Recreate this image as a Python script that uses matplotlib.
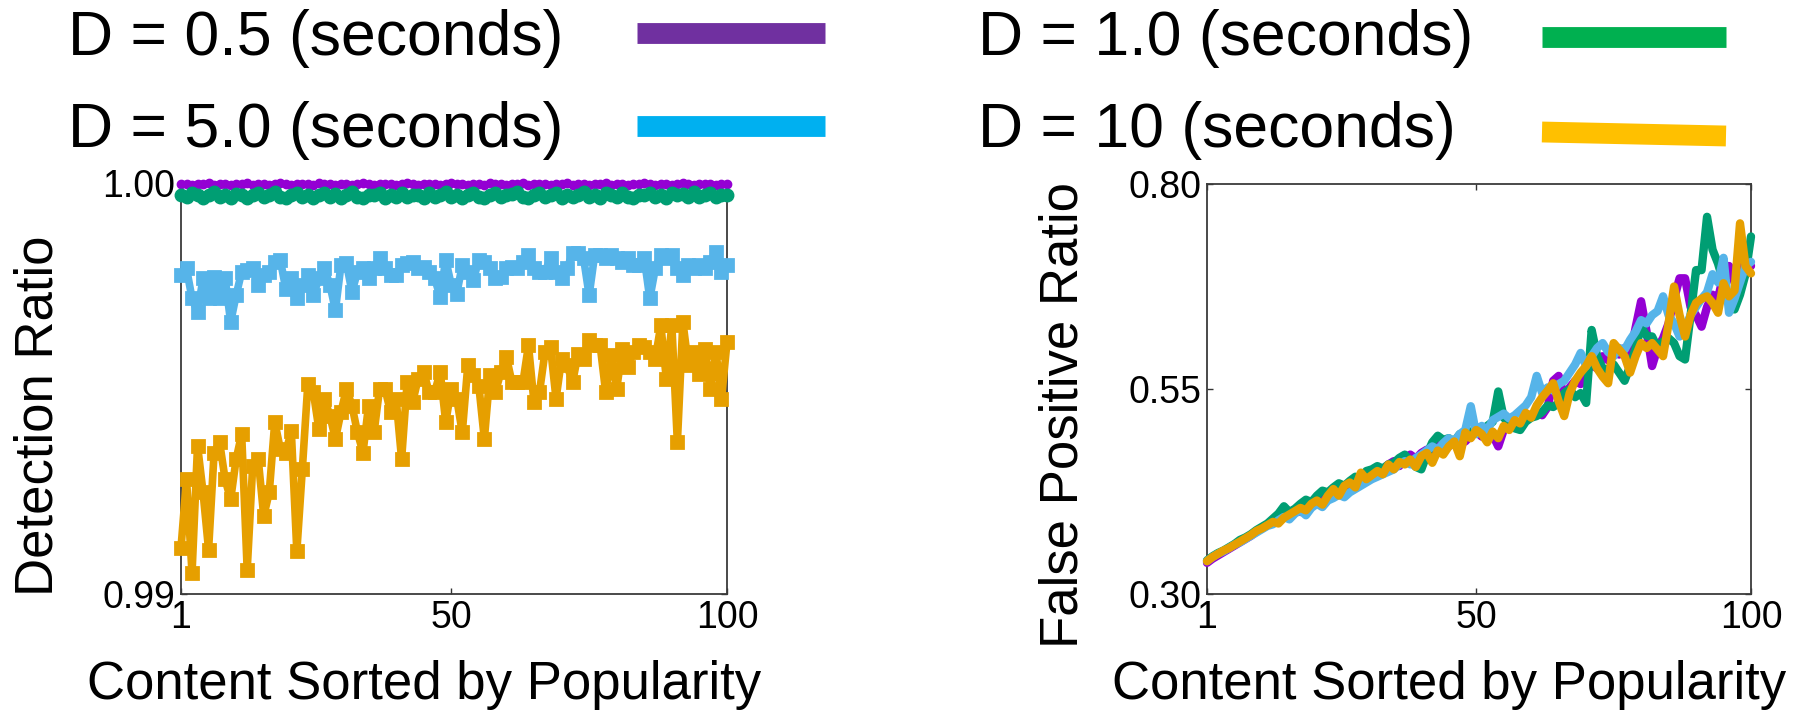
import matplotlib
matplotlib.use("Agg")
import matplotlib.pyplot as plt
from matplotlib.lines import Line2D

plt.rcParams['font.family'] = ['Liberation Sans', 'DejaVu Sans']

# ---------------- data ----------------
x = list(range(1, 101))

legend_labels = ["D = 0.5 (seconds)", "D = 1.0 (seconds)",
                 "D = 5.0 (seconds)", "D = 10 (seconds)"]

# Detection ratio (left panel)
det_d05 = [0.99997, 0.99998, 0.99996, 0.99998, 0.99997, 0.99999, 0.99996, 0.99998, 0.99997, 0.99996,
           0.99998, 0.99997, 0.99999, 0.99996, 0.99998, 0.99997, 0.99996, 0.99998, 0.99999, 0.99997,
           0.99996, 0.99998, 0.99997, 0.99998, 0.99996, 0.99999, 0.99997, 0.99998, 0.99996, 0.99997,
           0.99998, 0.99996, 0.99997, 0.99999, 0.99998, 0.99996, 0.99997, 0.99998, 0.99997, 0.99996,
           0.99998, 0.99999, 0.99997, 0.99996, 0.99998, 0.99997, 0.99998, 0.99996, 0.99997, 0.99999,
           0.99997, 0.99998, 0.99996, 0.99998, 0.99997, 0.99996, 0.99999, 0.99997, 0.99998, 0.99996,
           0.99997, 0.99998, 0.99999, 0.99996, 0.99997, 0.99998, 0.99997, 0.99996, 0.99998, 0.99997,
           0.99999, 0.99996, 0.99998, 0.99997, 0.99996, 0.99998, 0.99997, 0.99999, 0.99996, 0.99998,
           0.99997, 0.99996, 0.99998, 0.99997, 0.99999, 0.99998, 0.99996, 0.99997, 0.99998, 0.99996,
           0.99997, 0.99999, 0.99998, 0.99996, 0.99997, 0.99998, 0.99997, 0.99996, 0.99998, 0.99997]
det_d10 = [0.99972, 0.99966, 0.99976, 0.99970, 0.99963, 0.99972, 0.99977, 0.99967, 0.99971, 0.99964,
           0.99974, 0.99970, 0.99963, 0.99972, 0.99976, 0.99966, 0.99971, 0.99978, 0.99967, 0.99963,
           0.99970, 0.99975, 0.99966, 0.99972, 0.99963, 0.99971, 0.99976, 0.99967, 0.99973, 0.99964,
           0.99970, 0.99978, 0.99966, 0.99963, 0.99972, 0.99970, 0.99975, 0.99964, 0.99971, 0.99967,
           0.99976, 0.99966, 0.99972, 0.99970, 0.99963, 0.99975, 0.99967, 0.99971, 0.99978, 0.99966,
           0.99970, 0.99964, 0.99972, 0.99976, 0.99967, 0.99963, 0.99971, 0.99975, 0.99966, 0.99970,
           0.99973, 0.99978, 0.99967, 0.99964, 0.99971, 0.99975, 0.99966, 0.99970, 0.99976, 0.99963,
           0.99972, 0.99967, 0.99971, 0.99978, 0.99966, 0.99970, 0.99964, 0.99975, 0.99971, 0.99967,
           0.99976, 0.99966, 0.99963, 0.99972, 0.99970, 0.99975, 0.99967, 0.99971, 0.99964, 0.99976,
           0.99970, 0.99973, 0.99966, 0.99978, 0.99967, 0.99971, 0.99975, 0.99966, 0.99970, 0.99972]
det_d50 = [0.99776, 0.99792, 0.99719, 0.99686, 0.99768, 0.99719, 0.99772, 0.99719, 0.99768, 0.99662,
           0.99727, 0.99784, 0.99788, 0.99792, 0.99752, 0.99776, 0.99784, 0.99809, 0.99813, 0.99743,
           0.99768, 0.99719, 0.99752, 0.99776, 0.99727, 0.99768, 0.99792, 0.99752, 0.99691, 0.99800,
           0.99805, 0.99735, 0.99784, 0.99792, 0.99768, 0.99792, 0.99817, 0.99792, 0.99776, 0.99776,
           0.99800, 0.99805, 0.99809, 0.99792, 0.99796, 0.99784, 0.99768, 0.99723, 0.99813, 0.99752,
           0.99731, 0.99800, 0.99784, 0.99764, 0.99813, 0.99809, 0.99792, 0.99768, 0.99772, 0.99792,
           0.99796, 0.99792, 0.99809, 0.99825, 0.99792, 0.99784, 0.99784, 0.99817, 0.99784, 0.99768,
           0.99792, 0.99829, 0.99829, 0.99817, 0.99727, 0.99825, 0.99825, 0.99817, 0.99825, 0.99817,
           0.99809, 0.99817, 0.99800, 0.99800, 0.99817, 0.99719, 0.99792, 0.99825, 0.99817, 0.99825,
           0.99792, 0.99776, 0.99800, 0.99792, 0.99800, 0.99792, 0.99809, 0.99833, 0.99784, 0.99800]
det_d100 = [0.99112, 0.99279, 0.99051, 0.99361, 0.99247, 0.99108, 0.99344, 0.99369, 0.99279, 0.99230,
            0.99328, 0.99389, 0.99059, 0.99312, 0.99328, 0.99190, 0.99247, 0.99418, 0.99353, 0.99344,
            0.99397, 0.99104, 0.99304, 0.99511, 0.99491, 0.99401, 0.99475, 0.99434, 0.99377, 0.99442,
            0.99499, 0.99458, 0.99393, 0.99344, 0.99458, 0.99393, 0.99499, 0.99499, 0.99442, 0.99475,
            0.99328, 0.99515, 0.99467, 0.99524, 0.99540, 0.99491, 0.99491, 0.99540, 0.99418, 0.99499,
            0.99475, 0.99393, 0.99556, 0.99532, 0.99507, 0.99377, 0.99532, 0.99491, 0.99540, 0.99577,
            0.99515, 0.99515, 0.99515, 0.99605, 0.99467, 0.99491, 0.99589, 0.99601, 0.99475, 0.99572,
            0.99556, 0.99515, 0.99585, 0.99572, 0.99617, 0.99605, 0.99605, 0.99491, 0.99581, 0.99499,
            0.99597, 0.99552, 0.99589, 0.99605, 0.99601, 0.99589, 0.99572, 0.99654, 0.99524, 0.99654,
            0.99369, 0.99662, 0.99556, 0.99589, 0.99536, 0.99597, 0.99499, 0.99589, 0.99475, 0.99613]

# False positive ratio (right panel)
fp_d05 = [0.338, 0.343, 0.347, 0.351, 0.355, 0.359, 0.363, 0.367, 0.371, 0.376,
          0.380, 0.384, 0.388, 0.392, 0.395, 0.399, 0.403, 0.400, 0.408, 0.412,
          0.416, 0.420, 0.418, 0.425, 0.428, 0.432, 0.429, 0.438, 0.442, 0.440,
          0.446, 0.449, 0.452, 0.458, 0.462, 0.456, 0.466, 0.470, 0.465, 0.472,
          0.476, 0.472, 0.480, 0.484, 0.480, 0.487, 0.490, 0.486, 0.493, 0.498,
          0.492, 0.500, 0.494, 0.480, 0.500, 0.506, 0.510, 0.505, 0.515, 0.519,
          0.522, 0.518, 0.528, 0.560, 0.566, 0.540, 0.552, 0.560, 0.556, 0.570,
          0.580, 0.575, 0.590, 0.585, 0.598, 0.592, 0.600, 0.590, 0.625, 0.657,
          0.620, 0.578, 0.600, 0.612, 0.630, 0.660, 0.685, 0.685, 0.650, 0.640,
          0.626, 0.650, 0.665, 0.660, 0.690, 0.700, 0.680, 0.700, 0.705, 0.700]
fp_d10 = [0.341, 0.346, 0.350, 0.353, 0.357, 0.361, 0.366, 0.369, 0.373, 0.378,
          0.382, 0.386, 0.392, 0.398, 0.407, 0.400, 0.404, 0.410, 0.415, 0.412,
          0.420, 0.426, 0.424, 0.430, 0.435, 0.432, 0.438, 0.443, 0.440, 0.450,
          0.452, 0.456, 0.453, 0.458, 0.460, 0.466, 0.470, 0.462, 0.455, 0.452,
          0.470, 0.485, 0.493, 0.488, 0.490, 0.486, 0.495, 0.492, 0.498, 0.500,
          0.496, 0.505, 0.510, 0.547, 0.515, 0.508, 0.502, 0.500, 0.510, 0.515,
          0.517, 0.522, 0.530, 0.528, 0.533, 0.545, 0.550, 0.540, 0.545, 0.533,
          0.622, 0.590, 0.575, 0.574, 0.580, 0.570, 0.560, 0.578, 0.600, 0.626,
          0.615, 0.614, 0.600, 0.608, 0.612, 0.606, 0.590, 0.586, 0.640, 0.695,
          0.695, 0.760, 0.720, 0.703, 0.680, 0.660, 0.647, 0.665, 0.690, 0.736]
fp_d50 = [0.340, 0.345, 0.349, 0.352, 0.356, 0.360, 0.363, 0.367, 0.371, 0.375,
          0.379, 0.383, 0.385, 0.390, 0.394, 0.391, 0.398, 0.402, 0.396, 0.405,
          0.410, 0.406, 0.414, 0.417, 0.421, 0.418, 0.424, 0.428, 0.432, 0.436,
          0.440, 0.443, 0.446, 0.449, 0.452, 0.458, 0.462, 0.458, 0.466, 0.470,
          0.475, 0.480, 0.476, 0.484, 0.490, 0.486, 0.495, 0.500, 0.529, 0.495,
          0.505, 0.500, 0.512, 0.516, 0.520, 0.514, 0.518, 0.524, 0.530, 0.540,
          0.566, 0.545, 0.552, 0.548, 0.556, 0.560, 0.570, 0.580, 0.594, 0.578,
          0.590, 0.600, 0.606, 0.595, 0.590, 0.600, 0.598, 0.610, 0.620, 0.634,
          0.630, 0.640, 0.645, 0.663, 0.640, 0.630, 0.614, 0.625, 0.640, 0.650,
          0.660, 0.668, 0.690, 0.680, 0.710, 0.643, 0.660, 0.680, 0.700, 0.705]
fp_d100 = [0.340, 0.345, 0.349, 0.353, 0.356, 0.360, 0.364, 0.368, 0.372, 0.377,
           0.380, 0.384, 0.388, 0.386, 0.393, 0.397, 0.401, 0.405, 0.402, 0.410,
           0.414, 0.409, 0.420, 0.428, 0.420, 0.432, 0.436, 0.430, 0.448, 0.440,
           0.445, 0.450, 0.446, 0.458, 0.452, 0.461, 0.458, 0.464, 0.455, 0.468,
           0.472, 0.460, 0.475, 0.470, 0.480, 0.486, 0.468, 0.497, 0.490, 0.500,
           0.495, 0.485, 0.498, 0.490, 0.505, 0.500, 0.512, 0.508, 0.521, 0.515,
           0.530, 0.540, 0.548, 0.557, 0.535, 0.517, 0.545, 0.560, 0.570, 0.578,
           0.590, 0.575, 0.565, 0.557, 0.606, 0.598, 0.590, 0.570, 0.590, 0.606,
           0.600, 0.606, 0.598, 0.590, 0.630, 0.675, 0.640, 0.614, 0.640, 0.655,
           0.660, 0.663, 0.655, 0.643, 0.679, 0.663, 0.670, 0.752, 0.700, 0.691]

# ---------------- styling ----------------
c_purple = '#9400D3'
c_green = '#009E73'
c_blue = '#56B4E9'
c_orange = '#E69F00'
leg_colors = ['#7030A0', '#00B050', '#00B0F0', '#FFC000']

W, H = 1795, 711
fig = plt.figure(figsize=(W / 100, H / 100), dpi=100)

def fx(px):
    return px / W

def fy(py):
    return 1 - py / H

ax1 = fig.add_axes([fx(181), fy(594), fx(727) - fx(181), fy(183) - fy(594)])
ax2 = fig.add_axes([fx(1207), fy(594), fx(1751) - fx(1207), fy(184) - fy(594)])

# left panel
ax1.plot(x, det_d05, color=c_purple, lw=4, marker='o', ms=6, clip_on=False, zorder=3)
ax1.plot(x, det_d10, color=c_green, lw=6, marker='o', ms=9, clip_on=False, zorder=4)
ax1.plot(x, det_d50, color=c_blue, lw=5.5, marker='s', ms=8, mew=2,
         solid_joinstyle='round', clip_on=False, zorder=5)
ax1.plot(x, det_d100, color=c_orange, lw=5.5, marker='s', ms=8, mew=2,
         solid_joinstyle='round', clip_on=False, zorder=6)
ax1.set_xlim(1, 100)
ax1.set_ylim(0.99, 1.00)
ax1.set_yticks([0.99, 1.00])
ax1.set_yticklabels(['0.99', '1.00'])

# right panel
ax2.plot(x, fp_d05, color=c_purple, lw=6, solid_capstyle='round', clip_on=False, zorder=3)
ax2.plot(x, fp_d10, color=c_green, lw=6, solid_capstyle='round', clip_on=False, zorder=4)
ax2.plot(x, fp_d50, color=c_blue, lw=6, solid_capstyle='round', clip_on=False, zorder=5)
ax2.plot(x, fp_d100, color=c_orange, lw=6, solid_capstyle='round', clip_on=False, zorder=6)
ax2.set_xlim(1, 100)
ax2.set_ylim(0.30, 0.80)
ax2.set_yticks([0.30, 0.55, 0.80])
ax2.set_yticklabels(['0.30', '0.55', '0.80'])

for ax in (ax1, ax2):
    ax.set_xticks([1, 50, 100])
    ax.set_xticklabels(['1', '50', '100'])
    ax.tick_params(direction='in', length=4, width=1, color='#333333',
                   top=True, right=True, labelsize=27, pad=4)
    for s in ax.spines.values():
        s.set_color('#3a3a3a')
        s.set_linewidth(1.3)
    ax.set_facecolor('none')

ax1.set_xlabel('Content Sorted by Popularity', fontsize=38, va='baseline')
ax1.xaxis.set_label_coords((424.5 - 181) / 546, (594 - 699) / 411)
ax1.set_ylabel('Detection Ratio', fontsize=38, va='baseline')
ax1.yaxis.set_label_coords((53 - 181) / 546, (594 - 416) / 411)

ax2.set_xlabel('Content Sorted by Popularity', fontsize=38, va='baseline')
ax2.xaxis.set_label_coords((1449.5 - 1207) / 544, (594 - 699) / 410)
ax2.set_ylabel('False Positive Ratio', fontsize=38, va='baseline')
ax2.yaxis.set_label_coords((1077 - 1207) / 544, (594 - 415) / 410)

# legend (figure-level)
leg_text_pos = [(68, 55), (978, 55), (68, 147), (978, 147)]
leg_line_pos = [((637, 825), (33, 33)), ((1542, 1726), (37, 37)),
                ((637, 825), (125.5, 125.5)), ((1542, 1726), (132, 136))]
for lab, (tx, ty), ((x0, x1), (y0, y1)), col in zip(legend_labels, leg_text_pos,
                                                    leg_line_pos, leg_colors):
    fig.text(fx(tx), fy(ty), lab, fontsize=45, ha='left', va='baseline')
    fig.add_artist(Line2D([fx(x0), fx(x1)], [fy(y0), fy(y1)], color=col,
                          lw=15, solid_capstyle='butt', transform=fig.transFigure))

fig.savefig('out.png', dpi=100)
